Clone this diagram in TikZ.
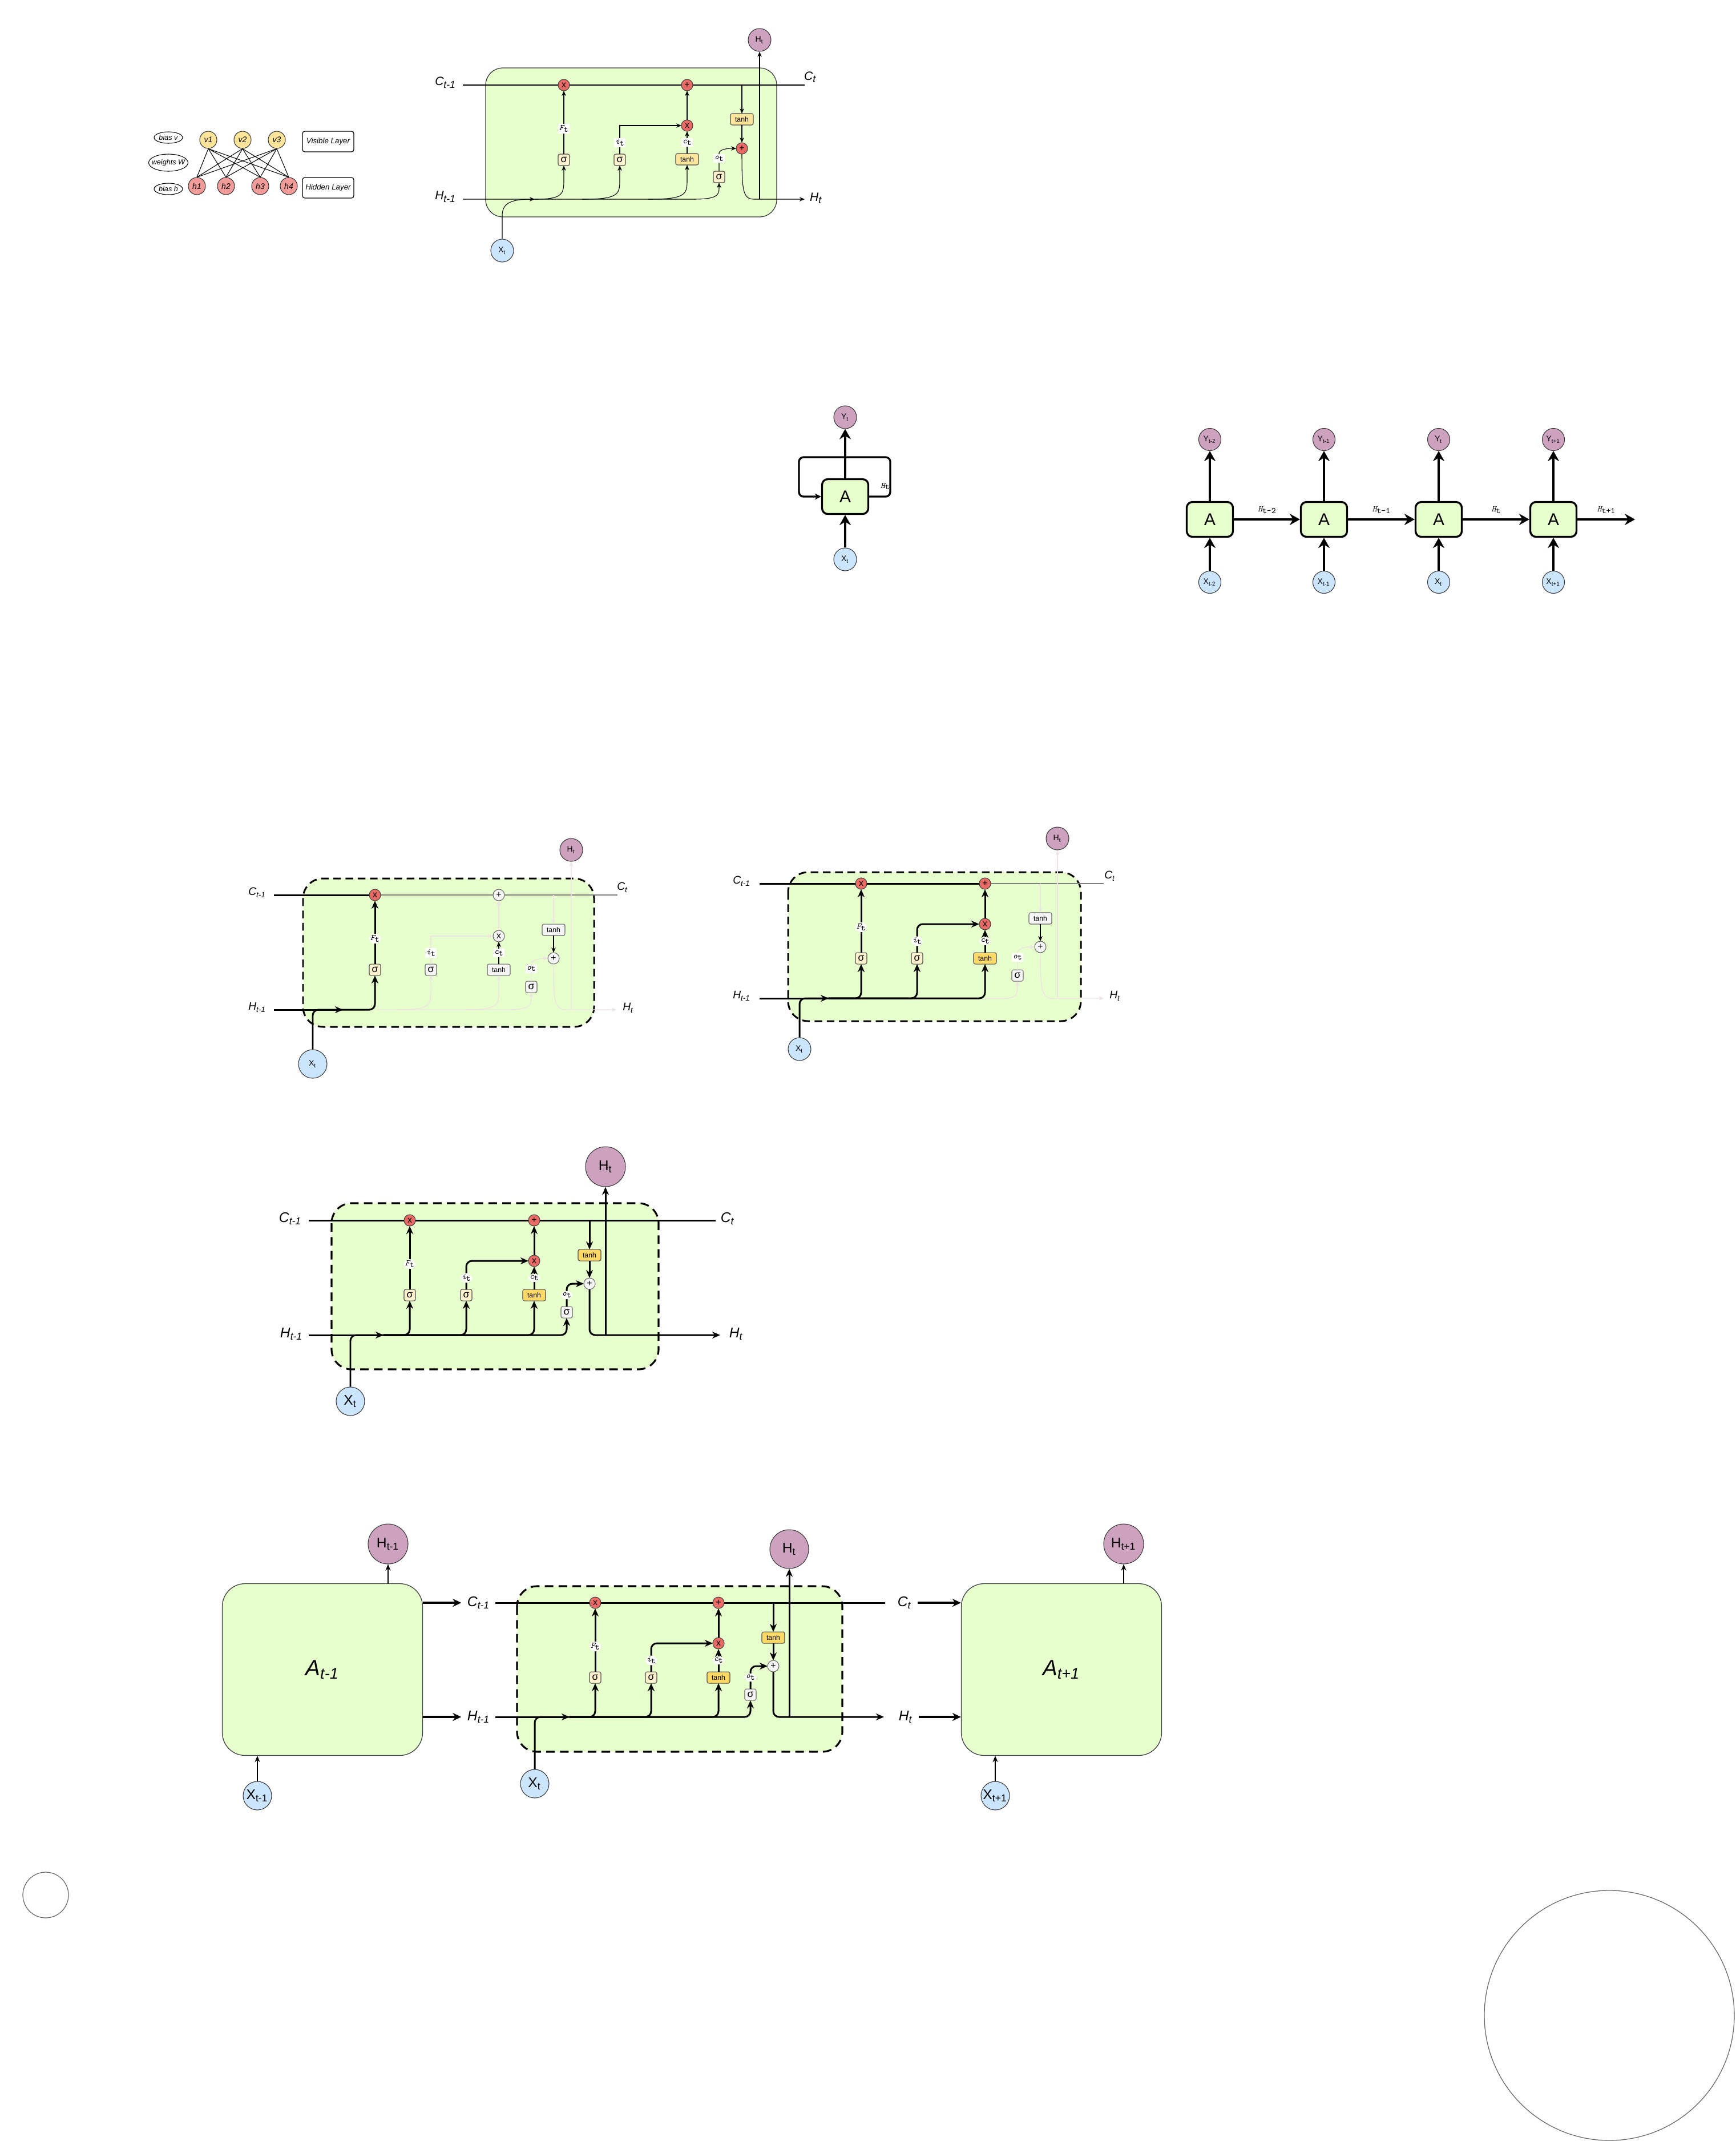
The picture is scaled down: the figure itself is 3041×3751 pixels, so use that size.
\documentclass[tikz,border=0pt]{standalone}
\usepackage{fontspec}
\setmainfont{Liberation Sans}
\usepackage{tikz}
\usetikzlibrary{positioning,arrows.meta,shapes.geometric}

\definecolor{CellGreen}{HTML}{E6FFCC}
\definecolor{CellLine}{HTML}{36393D}
\definecolor{OpRed}{HTML}{EA6B66}
\definecolor{GateYellow}{HTML}{FFF2CC}
\definecolor{TanhLight}{HTML}{FFE599}
\definecolor{TanhYellow}{HTML}{FFD966}
\definecolor{GrayFill}{HTML}{F5F5F5}
\definecolor{GrayLine}{HTML}{666666}
\definecolor{OutPurple}{HTML}{CDA2BE}
\definecolor{InBlue}{HTML}{CCE5FF}
\definecolor{VisYellow}{HTML}{FFE599}
\definecolor{HidRed}{HTML}{F19C99}
\definecolor{Faded}{HTML}{EEE3E3}

\newcommand{\fsz}[1]{\fontsize{#1}{#1}\selectfont}
\newcommand{\lsub}[2]{#1\textsubscript{#2}}
\newcommand{\gsub}[2]{{\itshape #1}\raisebox{-0.45ex}{#2}}

\begin{document}
\begin{tikzpicture}[x=0.1mm,y=-0.1mm]
  \tikzset{CellStyle/.style = {
    draw            = CellLine,
    fill            = CellGreen,
    line width      = 0.35pt,
    rounded corners = 3mm
    }
  }
  \tikzset{DashCellStyle/.style = {
    draw            = black,
    fill            = CellGreen,
    line width      = 0.85pt,
    dash pattern    = on 3.8pt off 2.3pt,
    rounded corners = 3.5mm
    }
  }
  \tikzset{BigDashCellStyle/.style = {
    DashCellStyle,
    line width      = 0.9pt,
    dash pattern    = on 4.3pt off 2.6pt
    }
  }
  \tikzset{OpStyle/.style = {
    shape         = circle,
    draw          = black!75,
    fill          = OpRed,
    line width    = 0.3pt,
    text          = black,
    inner sep     = 0pt,
    outer sep     = 0pt,
    minimum size  = 2mm,
    font          = \fsz{4.5}
    }
  }
  \tikzset{GrayOpStyle/.style = {OpStyle, draw = GrayLine, fill = GrayFill}}
  \tikzset{GateStyle/.style = {
    shape           = rectangle,
    rounded corners = 0.3mm,
    draw            = black!70,
    fill            = GateYellow,
    line width      = 0.3pt,
    inner sep       = 0pt,
    outer sep       = 0pt,
    minimum width   = 2mm,
    minimum height  = 2mm,
    font            = \fsz{5}
    }
  }
  \tikzset{TanhStyle/.style = {GateStyle, fill = TanhLight, minimum width = 4mm, font = \fsz{3.5}}}
  \tikzset{GrayGateStyle/.style = {GateStyle, draw = GrayLine, fill = GrayFill}}
  \tikzset{GrayTanhStyle/.style = {TanhStyle, draw = GrayLine, fill = GrayFill}}
  \tikzset{OutStyle/.style = {
    shape         = circle,
    draw          = black!80,
    fill          = OutPurple,
    line width    = 0.3pt,
    inner sep     = 0pt,
    minimum size  = 4mm,
    font          = \fsz{4}
    }
  }
  \tikzset{InStyle/.style = {OutStyle, fill = InBlue}}
  \tikzset{GateLabelStyle/.style = {
    fill        = white,
    inner sep   = 0.25mm,
    font        = \ttfamily\fsz{4.2}
    }
  }
  \tikzset{StateLabelStyle/.style = {
    inner sep   = 0pt,
    font        = \itshape\fsz{6}
    }
  }
  \tikzset{BigStateLabelStyle/.style = {StateLabelStyle, font = \itshape\fsz{7}}}
  \tikzset{ThinEdge/.style = {
    draw        = black,
    line width  = 0.3pt,
    >           = {Stealth[length=0.9mm, width=0.75mm]}
    }
  }
  \tikzset{FadedEdge/.style = {ThinEdge, draw = Faded, line width = 0.4pt}}
  \tikzset{GrayEdge/.style = {ThinEdge, draw = black!50, line width = 0.45pt}}
  \tikzset{ThickEdge/.style = {
    draw            = black,
    line width      = 0.85pt,
    rounded corners = 1mm,
    >               = {Stealth[length=1.4mm, width=1.2mm]}
    }
  }
  \tikzset{LinkEdge/.style = {
    draw        = black,
    line width  = 0.55pt,
    >           = {Stealth[length=1.1mm, width=0.9mm]}
    }
  }
  \tikzset{FrameEdge/.style = {
    draw        = black,
    line width  = 1pt,
    >           = {Stealth[length=1.5mm, width=1.4mm]}
    }
  }
  \tikzset{BiasStyle/.style = {
    shape          = ellipse,
    draw           = black,
    line width     = 0.3pt,
    inner xsep     = -0.6mm,
    inner ysep     = 0pt,
    minimum width  = 5mm,
    minimum height = 2mm,
    font           = \itshape\fsz{3.6}
    }
  }
  \tikzset{VisStyle/.style = {
    shape         = circle,
    draw          = black!80,
    fill          = VisYellow,
    line width    = 0.3pt,
    inner sep     = 0pt,
    minimum size  = 3mm,
    font          = \itshape\fsz{4}
    }
  }
  \tikzset{HidStyle/.style = {VisStyle, fill = HidRed}}
  \tikzset{LayerStyle/.style = {
    shape           = rectangle,
    rounded corners = 0.4mm,
    draw            = black,
    line width      = 0.35pt,
    minimum width   = 9mm,
    minimum height  = 2.4mm,
    inner xsep      = 0.5mm,
    font            = \itshape\fsz{3.8}
    }
  }
  \tikzset{RnnCellStyle/.style = {
    shape           = rectangle,
    rounded corners = 1mm,
    draw            = black,
    fill            = CellGreen,
    line width      = 0.95pt,
    minimum width   = 8.1mm,
    minimum height  = 6.1mm,
    inner sep       = 0pt,
    font            = \fsz{8.5}
    }
  }
  \tikzset{RnnEdge/.style = {
    draw        = black,
    line width  = 0.95pt,
    >           = {Stealth[length=1.8mm, width=2mm, inset=0.6mm]}
    }
  }
  \tikzset{StepLabelStyle/.style = {
    inner sep   = 0.3mm,
    font        = \ttfamily\fsz{4.2}
    }
  }
  \tikzset{BigCellStyle/.style = {
    shape           = rectangle,
    rounded corners = 4mm,
    draw            = CellLine,
    fill            = CellGreen,
    line width      = 0.35pt,
    minimum width   = 35.1mm,
    minimum height  = 30.1mm,
    font            = \itshape\fsz{11}
    }
  }

  \fill[white] (0, 0) rectangle (3041, 3751);
  \useasboundingbox (0, 0) rectangle (3041, 3751);

  \node[BiasStyle](bv) at (295, 241) {bias v};
  \node[BiasStyle, minimum width=6.9mm, minimum height=3mm](bw) at (295, 285) {weights W};
  \node[BiasStyle](bh) at (295, 331) {bias h};
  \node[VisStyle](v1) at (365, 245) {v1};
  \node[VisStyle](v2) at (425, 245) {v2};
  \node[VisStyle](v3) at (485, 245) {v3};
  \node[HidStyle](h1) at (345, 326) {h1};
  \node[HidStyle](h2) at (396, 326) {h2};
  \node[HidStyle](h3) at (456, 326) {h3};
  \node[HidStyle](h4) at (506, 326) {h4};
  \node[LayerStyle](vl) at (575, 248) {Visible Layer};
  \node[LayerStyle](hl) at (575, 329) {Hidden Layer};
  \draw[ThinEdge](v1.south) -- (h1.north);
  \draw[ThinEdge](v1.south) -- (h2.north);
  \draw[ThinEdge](v1.south) -- (h3.north);
  \draw[ThinEdge](v1.south) -- (h4.north);
  \draw[ThinEdge](v2.south) -- (h1.north);
  \draw[ThinEdge](v2.south) -- (h2.north);
  \draw[ThinEdge](v2.south) -- (h3.north);
  \draw[ThinEdge](v2.south) -- (h4.north);
  \draw[ThinEdge](v3.south) -- (h1.north);
  \draw[ThinEdge](v3.south) -- (h2.north);
  \draw[ThinEdge](v3.south) -- (h3.north);
  \draw[ThinEdge](v3.south) -- (h4.north);

  \draw[CellStyle] (851, 119) rectangle (1361, 380);
  \node[StateLabelStyle](cla) at (781, 145) {\lsub{C}{t-1}};
  \node[StateLabelStyle](cra) at (1420, 135) {\lsub{C}{t}};
  \node[StateLabelStyle](hla) at (781, 345) {\lsub{H}{t-1}};
  \node[StateLabelStyle](hra) at (1430, 347) {\lsub{H}{t}};
  \node[OpStyle](Fa) at (988, 149) {x};
  \node[OpStyle](Pa) at (1204, 149) {+};
  \node[OpStyle](Ma) at (1204, 220) {x};
  \node[OpStyle](Qa) at (1300, 260) {+};
  \node[GateStyle](S1a) at (988, 280) {σ};
  \node[GateStyle](S2a) at (1086, 280) {σ};
  \node[TanhStyle](T1a) at (1204, 279) {tanh};
  \node[GateStyle](S3a) at (1260, 310) {σ};
  \node[TanhStyle](T2a) at (1300, 209) {tanh};
  \node[OutStyle](Hta) at (1331, 70) {\lsub{H}{t}};
  \node[InStyle](Xta) at (880, 439) {\lsub{X}{t}};
  \coordinate (ca0) at (811, 149);
  \coordinate (ca1) at (1410, 149);
  \coordinate (ca2) at (1300, 149);
  \coordinate (ha0) at (811, 349);
  \coordinate (ha1) at (1410, 349);
  \coordinate (ha2) at (1331, 349);
  \coordinate (ha3) at (937, 349);
  \draw[ThinEdge] (ca0) -- (Fa) -- (Pa) -- (ca1);
  \draw[ThinEdge,->] (ha0) -- (1215, 349) .. controls (1256, 349) and (1260, 342) .. (1260, 330) -- (S3a);
  \draw[ThinEdge,->] (Xta) -- (880, 378) .. controls (880, 356) and (895, 349) .. (ha3);
  \draw[ThinEdge,->] (ha3) .. controls (982, 349) and (988, 342) .. (988, 318) -- (S1a);
  \draw[ThinEdge,->] (1020, 349) .. controls (1080, 349) and (1086, 342) .. (1086, 318) -- (S2a);
  \draw[ThinEdge,->] (1136, 349) .. controls (1198, 349) and (1204, 342) .. (1204, 318) -- (T1a);
  \draw[ThinEdge,->] (S1a) -- node[GateLabelStyle, pos=0.4]{\gsub{F}{t}} (Fa);
  \draw[ThinEdge,->] (S2a) |- node[GateLabelStyle, pos=0.2]{\gsub{i}{t}} (Ma);
  \draw[ThinEdge,->] (T1a) -- node[GateLabelStyle]{\gsub{c}{t}} (Ma);
  \draw[ThinEdge,->] (Ma) -- (Pa);
  \draw[ThinEdge,->] (ca2) -- (T2a);
  \draw[ThinEdge,->] (T2a) -- (Qa);
  \draw[ThinEdge,->] (S3a) -- node[GateLabelStyle, pos=0.7]{\gsub{o}{t}} (1260, 268) .. controls (1262, 261) and (1275, 260) .. (Qa);
  \draw[ThinEdge,->] (Qa) .. controls (1300, 335) and (1302, 349) .. (1322, 349) -- (ha1);
  \draw[ThinEdge,->] (ha2) -- (Hta);

  \node[OutStyle](Yr) at (1481, 731) {\lsub{Y}{t}};
  \node[RnnCellStyle](Ar) at (1481, 870) {A};
  \node[InStyle](Xr) at (1481, 980) {\lsub{X}{t}};
  \node[StepLabelStyle](hr) at (1551, 852) {\gsub{H}{t}};
  \draw[RnnEdge,->] (Xr) -- (Ar);
  \draw[RnnEdge,->] (Ar) -- (Yr);
  \draw[RnnEdge,->,rounded corners=0.8mm,>={Stealth[length=1.1mm, width=1.1mm]}] (Ar.east) -- (1560, 870) -- (1560, 801) -- (1400, 801) -- (1400, 870) -- (Ar.west);

  \node[RnnCellStyle](A1) at (2120, 910) {A};
  \node[RnnCellStyle](A2) at (2320, 910) {A};
  \node[RnnCellStyle](A3) at (2521, 910) {A};
  \node[RnnCellStyle](A4) at (2722, 910) {A};
  \node[OutStyle, minimum size=3.9mm](Y1) at (2120, 770) {\lsub{Y}{t-2}};
  \node[OutStyle, minimum size=3.9mm](Y2) at (2320, 770) {\lsub{Y}{t-1}};
  \node[OutStyle, minimum size=3.9mm](Y3) at (2521, 770) {\lsub{Y}{t}};
  \node[OutStyle, minimum size=3.9mm](Y4) at (2722, 770) {\lsub{Y}{t+1}};
  \node[InStyle, minimum size=3.9mm](X1) at (2120, 1020) {\lsub{X}{t-2}};
  \node[InStyle, minimum size=3.9mm](X2) at (2320, 1020) {\lsub{X}{t-1}};
  \node[InStyle, minimum size=3.9mm](X3) at (2521, 1020) {\lsub{X}{t}};
  \node[InStyle, minimum size=3.9mm](X4) at (2722, 1020) {\lsub{X}{t+1}};
  \coordinate (Aend) at (2865, 910);
  \draw[RnnEdge,->] (X1) -- (A1);
  \draw[RnnEdge,->] (X2) -- (A2);
  \draw[RnnEdge,->] (X3) -- (A3);
  \draw[RnnEdge,->] (X4) -- (A4);
  \draw[RnnEdge,->] (A1) -- (Y1);
  \draw[RnnEdge,->] (A2) -- (Y2);
  \draw[RnnEdge,->] (A3) -- (Y3);
  \draw[RnnEdge,->] (A4) -- (Y4);
  \draw[RnnEdge,->] (A1) -- node[StepLabelStyle, above=0.6mm]{\gsub{H}{t-2}} (A2);
  \draw[RnnEdge,->] (A2) -- node[StepLabelStyle, above=0.6mm]{\gsub{H}{t-1}} (A3);
  \draw[RnnEdge,->] (A3) -- node[StepLabelStyle, above=0.6mm]{\gsub{H}{t}} (A4);
  \draw[RnnEdge,->] (A4) -- node[StepLabelStyle, above=0.6mm]{\gsub{H}{t+1}} (Aend);

  \draw[DashCellStyle] (531, 1539) rectangle (1041, 1799);
  \node[StateLabelStyle, font=\itshape\fsz{5.5}](clb) at (451, 1564) {\lsub{C}{t-1}};
  \node[StateLabelStyle, font=\itshape\fsz{5.5}](crb) at (1091, 1555) {\lsub{C}{t}};
  \node[StateLabelStyle, font=\itshape\fsz{5.5}](hlb) at (451, 1765) {\lsub{H}{t-1}};
  \node[StateLabelStyle, font=\itshape\fsz{5.5}](hrb) at (1101, 1766) {\lsub{H}{t}};
  \node[OpStyle](Fb) at (657, 1568) {x};
  \node[GrayOpStyle](Pb) at (874, 1568) {+};
  \node[GrayOpStyle](Mb) at (874, 1640) {x};
  \node[GrayOpStyle](Qb) at (970, 1679) {+};
  \node[GateStyle](S1b) at (657, 1699) {σ};
  \node[GrayGateStyle](S2b) at (755, 1699) {σ};
  \node[GrayTanhStyle](T1b) at (874, 1699) {tanh};
  \node[GrayGateStyle](S3b) at (931, 1729) {σ};
  \node[GrayTanhStyle](T2b) at (970, 1629) {tanh};
  \node[OutStyle](Htb) at (1001, 1489) {\lsub{H}{t}};
  \node[InStyle, minimum size=5mm](Xtb) at (548, 1864) {\lsub{X}{t}};
  \coordinate (cb0) at (480, 1568);
  \coordinate (cb1) at (1082, 1568);
  \coordinate (cb2) at (970, 1568);
  \coordinate (hb0) at (480, 1769);
  \coordinate (hb1) at (1080, 1769);
  \coordinate (hb2) at (1001, 1769);
  \coordinate (hb3) at (601, 1769);
  \draw[GrayEdge] (Fb) -- (Pb) -- (cb1);
  \draw[FadedEdge,->] (700, 1769) .. controls (750, 1769) and (755, 1762) .. (755, 1740) -- (S2b);
  \draw[FadedEdge,->] (820, 1769) .. controls (868, 1769) and (874, 1762) .. (874, 1740) -- (T1b);
  \draw[FadedEdge,->] (660, 1769) -- (890, 1769) .. controls (926, 1769) and (931, 1762) .. (931, 1750) -- (S3b);
  \draw[FadedEdge,->] (S2b) |- node[GateLabelStyle, pos=0.2]{\gsub{i}{t}} (Mb);
  \draw[ThinEdge,->] (T1b) -- node[GateLabelStyle]{\gsub{c}{t}} (Mb);
  \draw[FadedEdge,->] (Mb) -- (Pb);
  \draw[FadedEdge,->] (cb2) -- (T2b);
  \draw[ThinEdge,->] (T2b) -- (Qb);
  \draw[FadedEdge,->] (S3b) -- node[GateLabelStyle, pos=0.7]{\gsub{o}{t}} (931, 1688) .. controls (933, 1681) and (945, 1679) .. (Qb);
  \draw[FadedEdge,->] (Qb) .. controls (970, 1755) and (972, 1769) .. (992, 1769) -- (hb1);
  \draw[FadedEdge,->] (hb2) -- (Htb);
  \draw[ThickEdge] (cb0) -- (Fb);
  \draw[ThickEdge,->] (hb0) -- (hb3);
  \draw[ThickEdge] (Xtb) |- (hb3);
  \draw[ThickEdge,->] (hb3) -| (S1b);
  \draw[ThickEdge,->] (S1b) -- node[GateLabelStyle, pos=0.4]{\gsub{F}{t}} (Fb);

  \draw[DashCellStyle] (1381, 1528) rectangle (1894, 1789);
  \node[StateLabelStyle, font=\itshape\fsz{5.5}](clc) at (1300, 1544) {\lsub{C}{t-1}};
  \node[StateLabelStyle, font=\itshape\fsz{5.5}](crc) at (1945, 1535) {\lsub{C}{t}};
  \node[StateLabelStyle, font=\itshape\fsz{5.5}](hlc) at (1300, 1745) {\lsub{H}{t-1}};
  \node[StateLabelStyle, font=\itshape\fsz{5.5}](hrc) at (1954, 1745) {\lsub{H}{t}};
  \node[OpStyle](Fc) at (1509, 1548) {x};
  \node[OpStyle](Pc) at (1726, 1548) {+};
  \node[OpStyle](Mc) at (1726, 1619) {x};
  \node[GrayOpStyle](Qc) at (1823, 1659) {+};
  \node[GateStyle](S1c) at (1509, 1679) {σ};
  \node[GateStyle](S2c) at (1607, 1679) {σ};
  \node[TanhStyle, fill=TanhYellow](T1c) at (1726, 1679) {tanh};
  \node[GrayGateStyle](S3c) at (1783, 1709) {σ};
  \node[GrayTanhStyle](T2c) at (1823, 1609) {tanh};
  \node[OutStyle](Htc) at (1853, 1469) {\lsub{H}{t}};
  \node[InStyle](Xtc) at (1401, 1838) {\lsub{X}{t}};
  \coordinate (cc0) at (1331, 1548);
  \coordinate (cc1) at (1934, 1548);
  \coordinate (cc2) at (1823, 1548);
  \coordinate (hc0) at (1331, 1749);
  \coordinate (hc1) at (1934, 1749);
  \coordinate (hc2) at (1853, 1749);
  \coordinate (hc3) at (1452, 1749);
  \draw[GrayEdge] (Pc) -- (cc1);
  \draw[FadedEdge,->] (1726, 1749) -- (1760, 1749) .. controls (1780, 1749) and (1783, 1742) .. (1783, 1730) -- (S3c);
  \draw[FadedEdge,->] (cc2) -- (T2c);
  \draw[ThinEdge,->] (T2c) -- (Qc);
  \draw[FadedEdge,->] (S3c) -- node[GateLabelStyle, pos=0.7]{\gsub{o}{t}} (1783, 1668) .. controls (1785, 1661) and (1797, 1659) .. (Qc);
  \draw[FadedEdge,->] (Qc) .. controls (1823, 1735) and (1825, 1749) .. (1845, 1749) -- (hc1);
  \draw[FadedEdge,->] (hc2) -- (Htc);
  \draw[ThickEdge] (cc0) -- (Fc) -- (Pc);
  \draw[ThickEdge,->] (hc0) -- (hc3);
  \draw[ThickEdge] (Xtc) |- (hc3);
  \draw[ThickEdge,->] (hc3) -| (S1c);
  \draw[ThickEdge,->] (hc3) -| (S2c);
  \draw[ThickEdge,->] (hc3) -| (T1c);
  \draw[ThickEdge,->] (S1c) -- node[GateLabelStyle, pos=0.4]{\gsub{F}{t}} (Fc);
  \draw[ThickEdge,->] (S2c) |- node[GateLabelStyle, pos=0.2]{\gsub{i}{t}} (Mc);
  \draw[ThickEdge,->] (T1c) -- node[GateLabelStyle]{\gsub{c}{t}} (Mc);
  \draw[ThickEdge,->] (Mc) -- (Pc);

  \draw[BigDashCellStyle] (581, 2108) rectangle (1154, 2399);
  \node[BigStateLabelStyle](cld) at (509, 2135) {\lsub{C}{t-1}};
  \node[BigStateLabelStyle](crd) at (1275, 2135) {\lsub{C}{t}};
  \node[BigStateLabelStyle](hld) at (511, 2337) {\lsub{H}{t-1}};
  \node[BigStateLabelStyle](hrd) at (1290, 2337) {\lsub{H}{t}};
  \node[OpStyle](Fd) at (718, 2138) {x};
  \node[OpStyle](Pd) at (936, 2138) {+};
  \node[OpStyle](Md) at (936, 2209) {x};
  \node[GrayOpStyle](Qd) at (1033, 2249) {+};
  \node[GateStyle](S1d) at (718, 2269) {σ};
  \node[GateStyle](S2d) at (817, 2269) {σ};
  \node[TanhStyle, fill=TanhYellow](T1d) at (936, 2269) {tanh};
  \node[GrayGateStyle](S3d) at (993, 2299) {σ};
  \node[TanhStyle, fill=TanhYellow](T2d) at (1033, 2199) {tanh};
  \node[OutStyle, minimum size=7mm, font=\fsz{7}](Htd) at (1061, 2044) {\lsub{H}{t}};
  \node[InStyle, minimum size=5mm, font=\fsz{7}](Xtd) at (614, 2455) {\lsub{X}{t}};
  \coordinate (cd0) at (541, 2138);
  \coordinate (cd1) at (1254, 2138);
  \coordinate (cd2) at (1033, 2138);
  \coordinate (hd0) at (541, 2339);
  \coordinate (hd1) at (1262, 2339);
  \coordinate (hd2) at (1061, 2339);
  \coordinate (hd3) at (672, 2339);
  \draw[ThickEdge] (cd0) -- (Fd) -- (Pd) -- (cd1);
  \draw[ThickEdge,->] (hd0) -- (hd3);
  \draw[ThickEdge] (Xtd) |- (hd3);
  \draw[ThickEdge,->] (hd3) -| (S1d);
  \draw[ThickEdge,->] (hd3) -| (S2d);
  \draw[ThickEdge,->] (hd3) -| (T1d);
  \draw[ThickEdge,->] (hd3) -| (S3d);
  \draw[ThickEdge,->] (S1d) -- node[GateLabelStyle, pos=0.4]{\gsub{F}{t}} (Fd);
  \draw[ThickEdge,->] (S2d) |- node[GateLabelStyle, pos=0.2]{\gsub{i}{t}} (Md);
  \draw[ThickEdge,->] (T1d) -- node[GateLabelStyle]{\gsub{c}{t}} (Md);
  \draw[ThickEdge,->] (Md) -- (Pd);
  \draw[ThickEdge,->] (cd2) -- (T2d);
  \draw[ThickEdge,->] (T2d) -- (Qd);
  \draw[ThickEdge,->] (S3d) |- node[GateLabelStyle, pos=0.25]{\gsub{o}{t}} (Qd);
  \draw[ThickEdge,->] (Qd) |- (hd1);
  \draw[ThickEdge,->] (hd2) -- (Htd);

  \draw[BigDashCellStyle] (906, 2779) rectangle (1476, 3069);
  \node[BigStateLabelStyle](cle) at (839, 2808) {\lsub{C}{t-1}};
  \node[BigStateLabelStyle](cre) at (1585, 2808) {\lsub{C}{t}};
  \node[BigStateLabelStyle](hle) at (839, 3008) {\lsub{H}{t-1}};
  \node[BigStateLabelStyle](hre) at (1587, 3008) {\lsub{H}{t}};
  \node[OpStyle](Fe) at (1043, 2808) {x};
  \node[OpStyle](Pe) at (1259, 2808) {+};
  \node[OpStyle](Me) at (1259, 2879) {x};
  \node[GrayOpStyle](Qe) at (1355, 2919) {+};
  \node[GateStyle](S1e) at (1043, 2939) {σ};
  \node[GateStyle](S2e) at (1141, 2939) {σ};
  \node[TanhStyle, fill=TanhYellow](T1e) at (1259, 2939) {tanh};
  \node[GrayGateStyle](S3e) at (1315, 2969) {σ};
  \node[TanhStyle, fill=TanhYellow](T2e) at (1355, 2869) {tanh};
  \node[OutStyle, minimum size=6.8mm, font=\fsz{7}](Hte) at (1383, 2714) {\lsub{H}{t}};
  \node[InStyle, minimum size=5mm, font=\fsz{7}](Xte) at (937, 3125) {\lsub{X}{t}};
  \coordinate (ce0) at (868, 2808);
  \coordinate (ce1) at (1551, 2808);
  \coordinate (ce2) at (1355, 2808);
  \coordinate (he0) at (868, 3008);
  \coordinate (he1) at (1549, 3008);
  \coordinate (he2) at (1383, 3008);
  \coordinate (he3) at (998, 3008);
  \draw[ThickEdge] (ce0) -- (Fe) -- (Pe) -- (ce1);
  \draw[ThickEdge,->] (he0) -- (he3);
  \draw[ThickEdge] (Xte) |- (he3);
  \draw[ThickEdge,->] (he3) -| (S1e);
  \draw[ThickEdge,->] (he3) -| (S2e);
  \draw[ThickEdge,->] (he3) -| (T1e);
  \draw[ThickEdge,->] (he3) -| (S3e);
  \draw[ThickEdge,->] (S1e) -- node[GateLabelStyle, pos=0.4]{\gsub{F}{t}} (Fe);
  \draw[ThickEdge,->] (S2e) |- node[GateLabelStyle, pos=0.2]{\gsub{i}{t}} (Me);
  \draw[ThickEdge,->] (T1e) -- node[GateLabelStyle]{\gsub{c}{t}} (Me);
  \draw[ThickEdge,->] (Me) -- (Pe);
  \draw[ThickEdge,->] (ce2) -- (T2e);
  \draw[ThickEdge,->] (T2e) -- (Qe);
  \draw[ThickEdge,->] (S3e) |- node[GateLabelStyle, pos=0.25]{\gsub{o}{t}} (Qe);
  \draw[ThickEdge,->] (Qe) |- (he1);
  \draw[ThickEdge,->] (he2) -- (Hte);

  \node[BigCellStyle](Am) at (565, 2925) {\lsub{A}{t-1}};
  \node[BigCellStyle](Ap) at (1860, 2925) {\lsub{A}{t+1}};
  \node[OutStyle, minimum size=7mm, font=\fsz{7}](Hm) at (680, 2705) {\lsub{H}{t-1}};
  \node[OutStyle, minimum size=7mm, font=\fsz{7}](Hp) at (1969, 2705) {\lsub{H}{t+1}};
  \node[InStyle, minimum size=5mm, font=\fsz{7}](Xm) at (451, 3146) {\lsub{X}{t-1}};
  \node[InStyle, minimum size=5mm, font=\fsz{7}](Xp) at (1744, 3146) {\lsub{X}{t+1}};
  \draw[LinkEdge,->] (Am.north -| Hm) -- (Hm);
  \draw[LinkEdge,->] (Ap.north -| Hp) -- (Hp);
  \draw[LinkEdge,->] (Xm) -- (Xm |- Am.south);
  \draw[LinkEdge,->] (Xp) -- (Xp |- Ap.south);
  \draw[FrameEdge,->,shorten >=1mm] (Am.east |- cle) -- (cle.west);
  \draw[FrameEdge,->,shorten >=1mm] (Am.east |- hle) -- (hle.west);
  \draw[FrameEdge,->,shorten <=1mm] (cre.east) -- (cre.east -| Ap.west);
  \draw[FrameEdge,->,shorten <=1mm] (hre.east) -- (hre.east -| Ap.west);

  \node[circle, draw=black!60, line width=0.35pt, inner sep=0pt, minimum size=8mm](O1) at (80, 3320) {};
  \node[circle, draw=black!60, line width=0.35pt, inner sep=0pt, minimum size=43.8mm](O2) at (2820, 3531) {};
\end{tikzpicture}
\end{document}
